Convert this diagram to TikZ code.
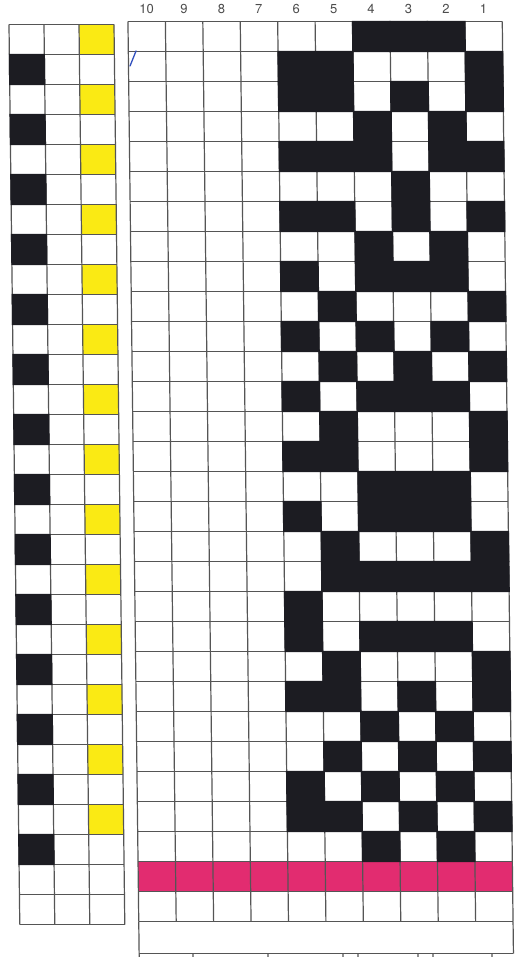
\documentclass[tikz,border=0pt]{standalone}
\usepackage{fontspec}
\setsansfont{TeX Gyre Heros}
\definecolor{cellblack}{RGB}{28,28,34}
\definecolor{weftyellow}{RGB}{250,234,20}
\definecolor{ribbon}{RGB}{226,44,112}
\definecolor{gridline}{RGB}{85,85,85}
\definecolor{penblue}{RGB}{50,80,190}
\begin{document}
\begin{tikzpicture}[x=1pt,y=-1pt,
  gridl/.style={draw=gridline,line width=1.2pt},
  blk/.style={fill=cellblack},
  yel/.style={fill=weftyellow},
  mag/.style={fill=ribbon},
  numlabel/.style={font=\sffamily\fontsize{13}{13}\selectfont,text=black!70,inner sep=0pt}]
\useasboundingbox[fill=white] (0,0) rectangle (515,957);
\begin{scope}[xslant=-0.012]
  \def\RX{127.7}\def\RW{37.43}\def\RY{21.5}\def\RH{30}
  \def\LX{8.7}\def\LW{35}\def\LY{24.5}
  % ---------- right grid ----------
  \fill[mag] (\RX,\RY+28*\RH) rectangle (\RX+10*\RW,\RY+29*\RH);
  \foreach \i in {0,...,10}
    \draw[gridl] (\RX+\i*\RW,\RY) -- (\RX+\i*\RW,\RY+30*\RH);
  \foreach \j in {0,...,30}
    \draw[gridl] (\RX,\RY+\j*\RH) -- (\RX+10*\RW,\RY+\j*\RH);
  % frame below the grid
  \draw[gridl] (\RX,\RY+30*\RH) -- (\RX,960);
  \draw[gridl] (\RX+10*\RW,\RY+30*\RH) -- (\RX+10*\RW,953.5);
  \draw[gridl] (\RX,953.5) -- (\RX+10*\RW,953.5);
  \foreach \t in {181.5,256.5,331.5,346.5,406.5,421.5,480.5}
    \draw[gridl] (\t,953.5) -- (\t,960);
  % black cells
  \foreach \r/\cl in {0/{6,7,8},1/{4,5,9},2/{4,5,7,9},3/{6,8},4/{4,5,6,8,9},
      5/{7},6/{4,5,7,9},7/{6,8},8/{4,6,7,8},9/{5,9},10/{4,6,8},11/{5,7,9},
      12/{4,6,7,8},13/{5,9},14/{4,5,9},15/{6,7,8},16/{4,6,7,8},17/{5,9},
      18/{5,6,7,8,9},19/{4},20/{4,6,7,8},21/{5,9},22/{4,5,7,9},23/{6,8},
      24/{5,7,9},25/{4,6,8},26/{4,5,7,9},27/{6,8}}
    \foreach \c in \cl
      \fill[blk] (\RX+\c*\RW-0.7,\RY+\r*\RH-0.7) rectangle (\RX+\c*\RW+\RW+0.7,\RY+\r*\RH+\RH+0.7);
  % column numbers
  \foreach \i in {0,...,9}{
    \pgfmathtruncatemacro\lab{10-\i}
    \node[numlabel] (lab\lab) at (\RX+\i*\RW+0.5*\RW,9) {\lab};
  }
  % ---------- left grid ----------
  \foreach \r in {0,2,...,26}
    \fill[yel] (\LX+2*\LW,\LY+\r*\RH) rectangle (\LX+3*\LW,\LY+\r*\RH+\RH);
  \foreach \i in {0,...,3}
    \draw[gridl] (\LX+\i*\LW,\LY) -- (\LX+\i*\LW,\LY+30*\RH);
  \foreach \j in {0,...,30}
    \draw[gridl] (\LX,\LY+\j*\RH) -- (\LX+3*\LW,\LY+\j*\RH);
  \foreach \r in {1,3,...,27}
    \fill[blk] (\LX-0.6,\LY+\r*\RH-0.6) rectangle (\LX+\LW+0.6,\LY+\r*\RH+\RH+0.6);
\end{scope}
% stray pen mark
\draw[penblue,line width=1.3pt,line cap=round] (130,66) -- (136,51);
\end{tikzpicture}
\end{document}
